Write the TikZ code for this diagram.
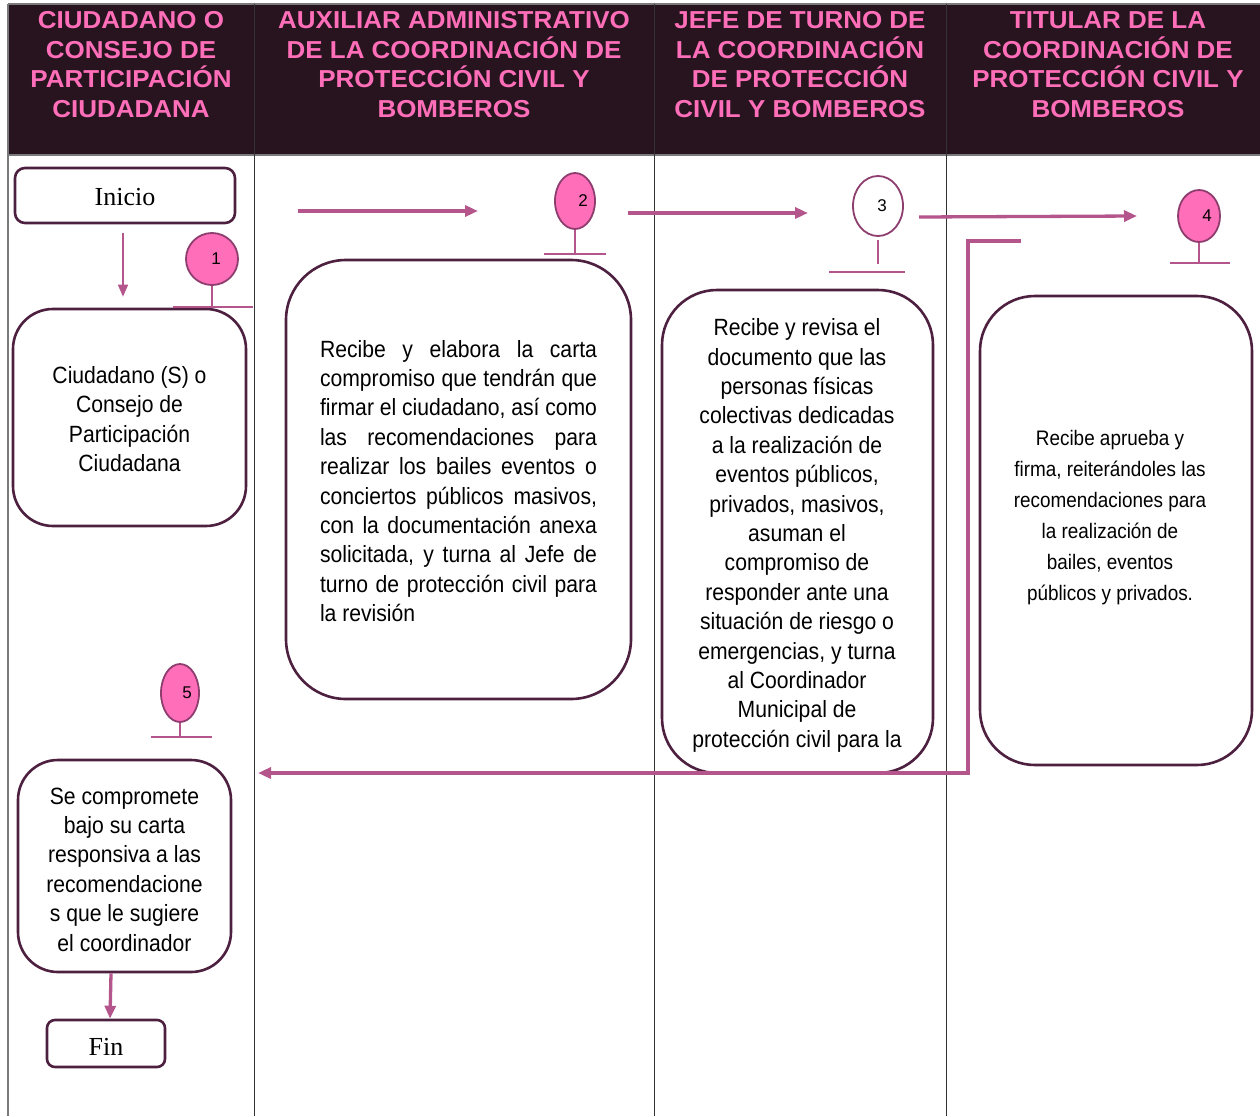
\documentclass[tikz,border=0pt]{standalone}
\usepackage{fontspec}
\setmainfont{Liberation Sans}
\newfontfamily\bodyfont[FakeStretch=0.9]{Liberation Sans}
\newfontfamily\headfont[FakeStretch=1.06]{Liberation Sans}
\newfontfamily\serfont{Liberation Serif}
\usetikzlibrary{arrows.meta,shapes.geometric,calc}
\definecolor{hdbg}{HTML}{28141F}
\definecolor{hdtx}{HTML}{FF6EB9}
\definecolor{pinkfill}{HTML}{FF6EB9}
\definecolor{connc}{HTML}{B4568C}
\definecolor{boxline}{HTML}{4D2040}
\definecolor{mkline}{HTML}{8E3D6F}
\definecolor{laneline}{HTML}{333333}
\definecolor{frameline}{HTML}{7A7A7A}
\begin{document}
\begin{tikzpicture}[x=1pt,y=-1pt,
  hdr/.style={text=hdtx, font=\headfont\fontsize{24.5}{29.5}\selectfont\bfseries, align=center, inner sep=0pt},
  box/.style={draw=boxline, line width=2.6pt, rounded corners=#1, inner sep=0pt, align=center,
              font=\bodyfont\fontsize{23.5}{29.4}\selectfont},
  box/.default=40pt,
  txt/.style={inner sep=0pt, align=center, font=\bodyfont\fontsize{23.5}{29.4}\selectfont},
  termbox/.style={draw=boxline, line width=2.6pt, rounded corners=#1, inner sep=0pt,
              font=\serfont\fontsize{26}{30}\selectfont},
  termbox/.default=10pt,
  mk/.style={ellipse, draw=mkline, line width=1.8pt, fill=pinkfill, inner sep=0pt,
             font=\fontsize{17}{17}\selectfont},
  arrthick/.style={draw=connc, line width=3.3pt, -{Triangle[length=13pt,width=11pt]}},
  arrthin/.style={draw=connc, line width=1.6pt, -{Triangle[length=12pt,width=10pt]}},
  stemline/.style={draw=connc, line width=1.8pt},
  lane/.style={draw=laneline, line width=1pt}
]
\useasboundingbox (0,0) rectangle (1260,1116);
% header
\fill[hdbg] (8,4) rectangle (1260,155);
\draw[frameline, line width=1.6pt] (8,4) -- (1260,4);
\draw[frameline, line width=1.6pt] (8,155) -- (1260,155);
\draw[frameline, line width=1.6pt] (8,4) -- (8,1116);
\foreach \xx in {254,654,946} \draw[lane] (\xx,4) -- (\xx,1116);

\node[hdr] (h1) at (131,64.5) {CIUDADANO O\\CONSEJO DE\\PARTICIPACIÓN\\CIUDADANA};
\node[hdr] (h2) at (454,64.5) {AUXILIAR ADMINISTRATIVO\\DE LA COORDINACIÓN DE\\PROTECCIÓN CIVIL Y\\BOMBEROS};
\node[hdr] (h3) at (800,64.5) {JEFE DE TURNO DE\\LA COORDINACIÓN\\DE PROTECCIÓN\\CIVIL Y BOMBEROS};
\node[hdr] (h4) at (1108,64.5) {TITULAR DE LA\\COORDINACIÓN DE\\PROTECCIÓN CIVIL Y\\BOMBEROS};

% terminals
\node[termbox, minimum width=220pt, minimum height=55pt] (inicio) at (125,195.5) {\raisebox{-2pt}[\height][\depth]{Inicio}};
\node[termbox=8pt, minimum width=118pt, minimum height=47pt] (fin) at (106,1043.5) {\raisebox{-3pt}[\height][\depth]{Fin}};

% process boxes
\node[box=40pt, minimum width=233pt, minimum height=217pt] (b1) at (129.5,417.5) {};
\node[txt] (t1) at (129.5,419) {Ciudadano (S) o\\Consejo de\\Participación\\Ciudadana};
\node[box=60pt, minimum width=345pt, minimum height=439pt] (b2) at (458.5,479.5) {};
\node[txt, align=left] (t2) at (458.5,481) {%
\makebox[277pt][s]{Recibe y elabora la carta}\\
\makebox[277pt][s]{compromiso que tendrán que}\\
\makebox[277pt][s]{firmar el ciudadano, así como}\\
\makebox[277pt][s]{las recomendaciones para}\\
\makebox[277pt][s]{realizar los bailes eventos o}\\
\makebox[277pt][s]{conciertos públicos masivos,}\\
\makebox[277pt][s]{con la documentación anexa}\\
\makebox[277pt][s]{solicitada, y turna al Jefe de}\\
\makebox[277pt][s]{turno de protección civil para}\\
\makebox[277pt][l]{la revisión}};
\node[box=55pt, minimum width=271pt, minimum height=483pt] (b3) at (797.5,531.5) {};
\node[txt] (t3) at (797,535.5)
  {Recibe y revisa el\\documento que las\\personas físicas\\colectivas dedicadas\\a la realización de\\eventos públicos,\\privados, masivos,\\asuman el\\compromiso de\\responder ante una\\situación de riesgo o\\emergencias, y turna\\al Coordinador\\Municipal de\\protección civil para la};
\node[box=55pt, minimum width=272pt, minimum height=469pt] (b4) at (1116,530.5) {};
\node[txt, font=\bodyfont\fontsize{21}{31}\selectfont] (t4) at (1110,517.5)
  {Recibe aprueba y\\firma, reiterándoles las\\recomendaciones para\\la realización de\\bailes, eventos\\públicos y privados.};
\node[box=40pt, minimum width=213pt, minimum height=212pt] (b5) at (124.5,866) {};
\node[txt] (t5) at (124.5,869.5)
  {Se compromete\\bajo su carta\\responsiva a las\\recomendacione\\s que le sugiere\\el coordinador};

% markers
\node[mk, minimum width=52pt, minimum height=52pt] (m1) at (212,259) {\makebox[0pt]{\kern8pt 1}};
\node[mk, minimum width=40pt, minimum height=56pt] (m2) at (575,201) {\makebox[0pt]{\kern16pt 2}};
\node[mk, fill=white, minimum width=50pt, minimum height=60pt] (m3) at (878,206) {\makebox[0pt]{\kern8pt 3}};
\node[mk, minimum width=42pt, minimum height=52pt] (m4) at (1199,216) {\makebox[0pt]{\kern16pt 4}};
\node[mk, minimum width=38pt, minimum height=58pt] (m5) at (180,693) {\makebox[0pt]{\kern14pt 5}};

\draw[stemline] (m1.south) -- ++(0,21) coordinate (m1b);
\draw[stemline] ([xshift=-39pt]m1b) -- ([xshift=41pt]m1b);
\draw[stemline] (m2.south) -- ++(0,24) coordinate (m2b);
\draw[stemline] ([xshift=-31pt]m2b) -- ([xshift=31pt]m2b);
\draw[stemline] ([yshift=-3pt]m3.south) -- ++(0,24);
\coordinate (m3b) at (878,272);
\draw[stemline] ([xshift=-49pt]m3b) -- ([xshift=27pt]m3b);
\draw[stemline] (m4.south) -- ++(0,20) coordinate (m4b);
\draw[stemline] ([xshift=-29pt]m4b) -- ([xshift=31pt]m4b);
\draw[stemline] (m5.south) -- ++(0,14) coordinate (m5b);
\draw[stemline] ([xshift=-29pt]m5b) -- ([xshift=32pt]m5b);

% connectors
\draw[arrthin] ([xshift=-2pt,yshift=-9pt]inicio.south) -- ([xshift=-6.5pt,yshift=11pt]b1.north);
\coordinate (a1s) at (298,211); \coordinate (a1e) at (478,211);
\draw[arrthick] (a1s) -- (a1e);
\coordinate (a2s) at (628,213); \coordinate (a2e) at (808,213);
\draw[arrthick] (a2s) -- (a2e);
\coordinate (a3s) at (919,217); \coordinate (a3e) at (1137,216);
\draw[arrthick] (a3s) -- (a3e);
\coordinate (r0) at (1021,241); \coordinate (r1) at (968,241);
\coordinate (r2) at (968,773); \coordinate (r3) at (258,773);
\draw[arrthick] (r0) -- (r1) -- (r2) -- (r3);
\draw[arrthick] ([xshift=-13.5pt]b5.south) -- ([xshift=4pt]fin.north);
\end{tikzpicture}
\end{document}
